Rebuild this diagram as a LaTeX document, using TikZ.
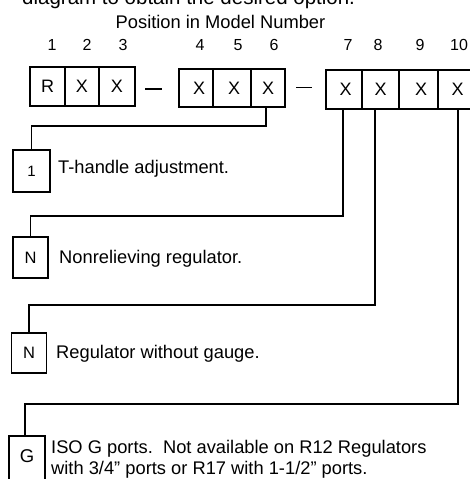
\documentclass[tikz,border=0pt]{standalone}
\usepackage{fontspec}
\setmainfont{Liberation Sans}
\begin{document}
\begin{tikzpicture}[x=1pt,y=-1pt,
  cell/.style={draw, line width=1.6pt, inner sep=0pt, minimum height=39pt, font=\fontsize{18}{20}\selectfont},
  optbox/.style={draw, line width=1.6pt, inner sep=0pt, minimum width=36pt, minimum height=41pt},
  wire/.style={line width=1.5pt},
  txt/.style={anchor=base west, inner sep=0pt, font=\fontsize{18.3}{22}\selectfont},
  num/.style={anchor=base, inner sep=0pt, font=\fontsize{16}{18}\selectfont}]
\useasboundingbox (0,0) rectangle (470,479);
\clip (0,0) rectangle (470,479);

% header texts
\node[txt, font=\fontsize{20.5}{24}\selectfont] (head) at (22,5) {diagram to obtain the desired option.};
\node[anchor=base, inner sep=0pt, font=\fontsize{18.3}{22}\selectfont] (pos) at (220.5,28) {Position in Model Number};

% position numbers
\node[num] (n1) at (52,50) {1};
\node[num] (n2) at (87,50) {2};
\node[num] (n3) at (123,50) {3};
\node[num] (n4) at (200,50) {4};
\node[num] (n5) at (238,50) {5};
\node[num] (n6) at (274,50) {6};
\node[num] (n7) at (348,50) {7};
\node[num] (n8) at (378,50) {8};
\node[num] (n9) at (420,50) {9};
\node[num] (n10) at (459,50) {10};

% model number cells
\node[cell, minimum width=35pt] (c1) at (47.5,86.5) {R};
\node[cell, minimum width=34pt] (c2) at (82,86.5) {X};
\node[cell, minimum width=36pt] (c3) at (117,86.5) {X};
\node[cell, minimum width=34pt, minimum height=38pt] (c4) at (196,88) {\hspace{6pt}X};
\node[cell, minimum width=38pt, minimum height=38pt] (c5) at (232,88) {\hspace{4pt}X};
\node[cell, minimum width=34pt, minimum height=38pt] (c6) at (268,88) {X};
\node[cell, minimum width=36pt] (c7) at (344,89.5) {\hspace{3pt}X};
\node[cell, minimum width=37pt] (c8) at (380.5,89.5) {X\hspace{5pt}};
\node[cell, minimum width=39pt] (c9) at (418.5,89.5) {\hspace{5pt}X};
\node[cell, minimum width=37pt] (c10) at (456.5,89.5) {\hspace{2pt}X};

% dashes
\coordinate (d1a) at (145,89);
\coordinate (d1b) at (162,89);
\coordinate (d2a) at (296,87.5);
\coordinate (d2b) at (312,87.5);
\draw[wire] (d1a) -- (d1b);
\draw[wire] (d2a) -- (d2b);

% option boxes
\node[optbox, minimum width=37pt, minimum height=42pt, font=\fontsize{15}{17}\selectfont] (o1) at (31.5,171) {1};
\node[optbox, minimum width=35pt, font=\fontsize{16.5}{18}\selectfont] (o2) at (30.5,257.5) {N};
\node[optbox, minimum width=35pt, minimum height=40pt, font=\fontsize{16.5}{18}\selectfont] (o3) at (29,353) {N};
\node[optbox, minimum width=36pt, minimum height=46pt, font=\fontsize{18.5}{20}\selectfont] (o4) at (27,459) {\raisebox{5pt}{G}};

% option texts
\node[txt] (t1) at (58,173) {T-handle adjustment.};
\node[txt] (t2) at (59,263.5) {Nonrelieving regulator.};
\node[txt] (t3) at (56,358) {Regulator without gauge.};
\node[txt] (t4) at (51,453) {ISO G ports.\ \ Not available on R12 Regulators};
\node[txt] (t5) at (51,474.5) {with 3/4" ports or R17 with 1-1/2" ports.};

% connectors
\coordinate (k1) at (0,126);
\coordinate (k2) at (0,216);
\coordinate (k3) at (0,305);
\coordinate (k4) at (0,404);
\draw[wire] ([xshift=-2pt]c6.south) -- ([xshift=-2pt]c6.south |- k1) -| (o1.north);
\draw[wire] ([xshift=-1pt]c7.south) -- ([xshift=-1pt]c7.south |- k2) -| (o2.north);
\draw[wire] ([xshift=-5.5pt]c8.south) -- ([xshift=-5.5pt]c8.south |- k3) -| (o3.north);
\draw[wire] ([xshift=1.5pt]c10.south) -- ([xshift=1.5pt]c10.south |- k4) -| ([xshift=-2pt]o4.north);
\end{tikzpicture}
\end{document}
